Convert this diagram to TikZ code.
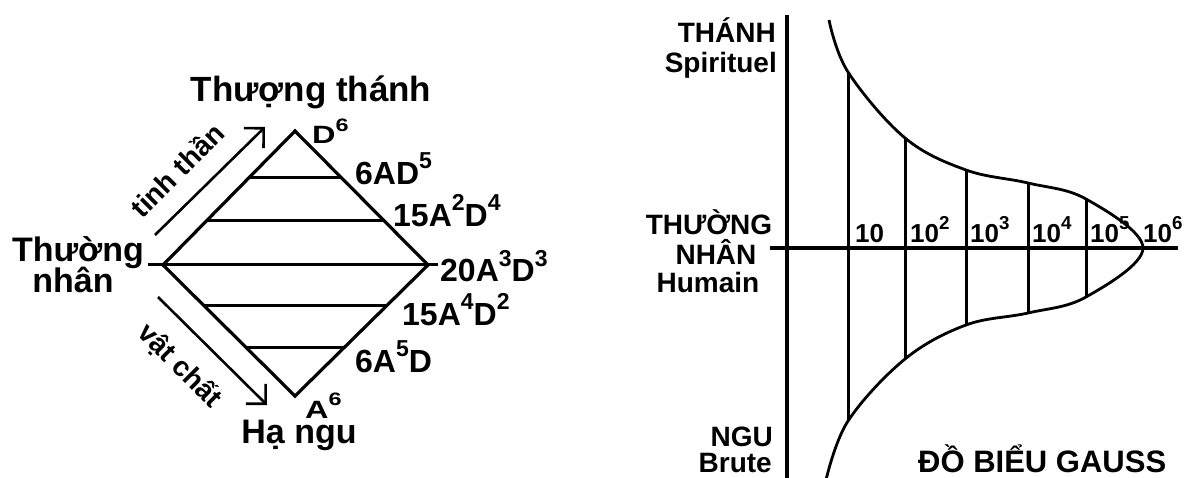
\documentclass[tikz,border=0pt]{standalone}
\usepackage{fontspec}
\setmainfont{Liberation Sans}
\usetikzlibrary{arrows.meta,calc}
\newcommand\spx[1]{\raisebox{0.5em}{\scalebox{0.72}{#1}}}
\newcommand\fs[1]{\fontsize{#1}{#1}\selectfont\bfseries}
\begin{document}
\begin{tikzpicture}[x=1pt,y=-1pt,
  thick line/.style={line width=3.2pt, line cap=round, line join=miter},
  thin line/.style={line width=3pt},
  lbl/.style={inner sep=0pt, font=\fs{32}},
  rlbl/.style={inner sep=0pt, font=\fs{28}},
  numlbl/.style={inner sep=0pt, font=\fs{26}, anchor=base west},
  barb/.style={line width=2.6pt, -{Straight Barb[length=14pt,width=28pt]}}]
\useasboundingbox (0,0) rectangle (1191,478);

% ---------------- left diamond ----------------
\coordinate (T) at (295,131);
\coordinate (L) at (163,265);
\coordinate (R) at (428,265);
\coordinate (B) at (295,396);
\coordinate (ML) at (148,265);
\coordinate (MR) at (438,265);
\draw[thick line] (L) -- (T) -- (R) -- (B) -- cycle;
\draw[thin line] (ML) -- (MR);
\coordinate (c1l) at ($(L)!0.65!(T)$); \coordinate (c1r) at ($(R)!0.65!(T)$);
\coordinate (c2l) at ($(L)!0.33!(T)$); \coordinate (c2r) at ($(R)!0.33!(T)$);
\coordinate (c3l) at ($(L)!0.31!(B)$); \coordinate (c3r) at ($(R)!0.31!(B)$);
\coordinate (c4l) at ($(L)!0.63!(B)$); \coordinate (c4r) at ($(R)!0.63!(B)$);
\draw[thin line] (c1l) -- (c1r);
\draw[thin line] (c2l) -- (c2r);
\draw[thin line] (c3l) -- (c3r);
\draw[thin line] (c4l) -- (c4r);

% arrows
\coordinate (a1s) at (155,235); \coordinate (a1e) at (265,127);
\coordinate (a2s) at (158,297); \coordinate (a2e) at (267,405);
\draw[barb] (a1s) -- (a1e);
\draw[barb] (a2s) -- (a2e);
\node[inner sep=0pt, font=\fs{28}, rotate=45] (tt) at (177,170) {tinh thần};
\node[inner sep=0pt, font=\fs{28}, rotate=-45] (vc) at (180,366) {vật chất};

% labels
\node[lbl, font=\fs{35}, anchor=base] (thth) at (311,102) {Thượng thánh};
\node[lbl, font=\fs{34}, anchor=base] (thuong) at (78,262) {Thường};
\node[lbl, font=\fs{34}, anchor=base] (nhan) at (73,292) {nhân};
\node[lbl, font=\fs{25}, anchor=base west] (d6) at (312,144) {\scalebox{1.3}[1]{D\spx{6}}};
\node[lbl, anchor=base west] (e1) at (355,185) {6AD\spx{5}};
\node[lbl, anchor=base west] (e2) at (393,227) {15A\spx{2}D\spx{4}};
\node[lbl, anchor=base west] (e3) at (440,282) {20A\spx{3}D\spx{3}};
\node[lbl, anchor=base west] (e4) at (402,325) {15A\spx{4}D\spx{2}};
\node[lbl, anchor=base west] (e5) at (355,372) {6A\spx{5}D};
\node[lbl, font=\fs{25}, anchor=base west] (a6) at (305,418) {\scalebox{1.3}[1]{A\spx{6}}};
\node[lbl, font=\fs{34}, anchor=base] (hangu) at (299,443) {Hạ ngu};

% ---------------- right Gauss diagram ----------------
\coordinate (vaxT) at (787,15);
\coordinate (vaxB) at (787,478);
\coordinate (haxL) at (770,248);
\coordinate (haxR) at (1178,248);
\draw[thick line, line cap=butt] (vaxT) -- (vaxB);
\draw[thick line, line cap=butt] (haxL) -- (haxR);

\coordinate (ctop) at (829,20);
\coordinate (u1) at (848,72);
\coordinate (u2) at (905,138);
\coordinate (u3) at (966,170);
\coordinate (u4) at (1028,183);
\coordinate (u5) at (1086,199);
\coordinate (tip) at (1143,248);
\coordinate (l5) at (1086,297);
\coordinate (l4) at (1028,313);
\coordinate (l3) at (966,325);
\coordinate (l2) at (905,359);
\coordinate (l1) at (848,421);
\coordinate (cbot) at (826,480);
\draw[line width=2.8pt] plot[smooth, tension=0.6] coordinates {(ctop) (u1) (u2) (u3) (u4) (u5) (tip) (l5) (l4) (l3) (l2) (l1) (cbot)};
\foreach \i in {1,...,5} \draw[thin line] (u\i) -- (l\i);

\node[rlbl, anchor=base east] (thanh) at (776,43) {THÁNH};
\node[rlbl, anchor=base east] (spir) at (777,73) {Spirituel};
\node[rlbl, anchor=base] (thuongR) at (709,235) {THƯỜNG};
\node[rlbl, anchor=base] (nhanR) at (716,265) {NHÂN};
\node[rlbl, anchor=base] (hum) at (708,292) {Humain};
\node[rlbl, anchor=base east] (ngu) at (773,446) {NGU};
\node[rlbl, anchor=base east] (brute) at (772,472) {Brute};
\node[inner sep=0pt, font=\fs{31}, anchor=base west] (gauss) at (918,472) {ĐỒ BIỂU GAUSS};

\node[numlbl] (n1) at (855,243) {10};
\node[numlbl] (n2) at (910,243) {10\spx{2}};
\node[numlbl] (n3) at (970,243) {10\spx{3}};
\node[numlbl] (n4) at (1032,243) {10\spx{4}};
\node[numlbl] (n5) at (1090,243) {10\spx{5}};
\node[numlbl] (n6) at (1143,243) {10\spx{6}};
\end{tikzpicture}
\end{document}
